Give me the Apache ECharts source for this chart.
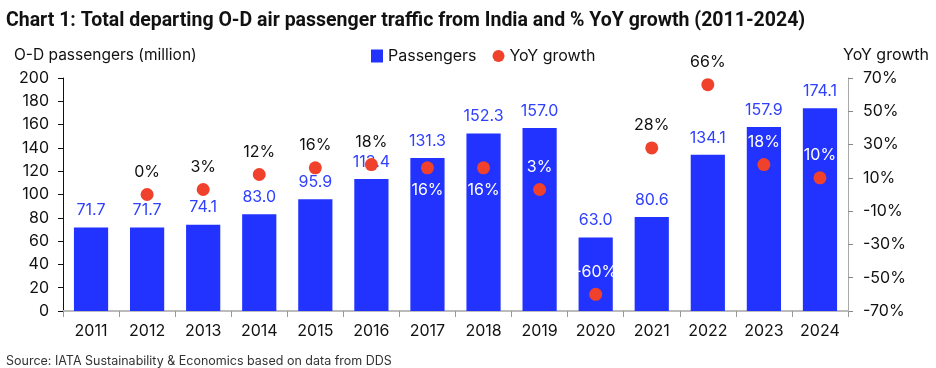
<!DOCTYPE html>
<html>
<head>
<meta charset="utf-8">
<script src="https://cdn.jsdelivr.net/npm/echarts@6/dist/echarts.min.js"></script>
<style>html,body{margin:0;padding:0;background:#fff}#c{width:936px;height:368px}</style>
</head>
<body>
<div id="c"></div>
<script>
var years = ['2011','2012','2013','2014','2015','2016','2017','2018','2019','2020','2021','2022','2023','2024'];
var passengers = [71.7, 71.7, 74.1, 83.0, 95.9, 113.4, 131.3, 152.3, 157.0, 63.0, 80.6, 134.1, 157.9, 174.1];
var yoyGrowth = [null, 0, 3, 12, 16, 18, 16, 16, 3, -60, 28, 66, 18, 10];
var leftTicks = [0, 20, 40, 60, 80, 100, 120, 140, 160, 180, 200];
var rightTicks = [-70, -50, -30, -10, 10, 30, 50, 70];

var FONT = 'Inter, "Liberation Sans", Arial, sans-serif';
var BLUE = '#2233ff';
var RED = '#f0412c';
// label style choices (not data)
var belowYears = ['2017', '2018'];
var whiteYears = ['2017', '2018', '2019', '2020', '2023', '2024'];

var yoyData = yoyGrowth.map(function (v, i) {
  var y = years[i];
  return {
    value: v,
    label: {
      position: belowYears.indexOf(y) >= 0 ? 'bottom' : 'top',
      color: whiteYears.indexOf(y) >= 0 ? '#ffffff' : '#111111'
    }
  };
});

var chart = echarts.init(document.getElementById('c'), null, {renderer: 'canvas'});
chart.setOption({
  animation: false,
  textStyle: {fontFamily: FONT},
  title: [
    {text: 'Chart 1: Total departing O-D air passenger traffic from India and % YoY growth (2011-2024)',
     left: 1, top: 6, textStyle: {fontFamily: 'Roboto, ' + FONT, fontWeight: 'bold', fontSize: 19.5, color: '#111'}},
    {text: 'O-D passengers (million)', left: 9, top: 42,
     textStyle: {fontFamily: FONT, fontWeight: 'normal', fontSize: 15.5, color: '#111'}},
    {text: 'YoY growth', right: 2, top: 42,
     textStyle: {fontFamily: FONT, fontWeight: 'normal', fontSize: 16, color: '#111'}},
    {text: 'Source: IATA Sustainability & Economics based on data from DDS', left: 1, top: 350,
     textStyle: {fontFamily: FONT, fontWeight: 'normal', fontSize: 12.5, color: '#333'}}
  ],
  legend: {
    left: 366, top: 43, itemGap: 16, itemWidth: 12, itemHeight: 13,
    textStyle: {fontFamily: FONT, fontSize: 16, color: '#111'},
    data: [{name: 'Passengers', icon: 'rect'}, {name: 'YoY growth', icon: 'circle'}]
  },
  grid: {left: 63, right: 88, top: 78, bottom: 57, containLabel: false},
  xAxis: {
    type: 'category', data: years,
    axisLine: {lineStyle: {color: '#bbbbbb', width: 2}},
    axisTick: {show: true, alignWithLabel: false, length: 6, lineStyle: {color: '#999'}},
    axisLabel: {fontFamily: FONT, fontSize: 16, color: '#111', margin: 12}
  },
  yAxis: [
    {
      type: 'value', min: 0, max: 200, interval: 20, position: 'left',
      axisLine: {show: true, lineStyle: {color: '#111', width: 1}},
      axisTick: {show: true, length: 5, lineStyle: {color: '#111'}},
      axisLabel: {fontFamily: FONT, fontSize: 16, color: '#111', margin: 14,
        customValues: leftTicks},
      splitLine: {show: false}
    },
    {
      type: 'value', min: -70, max: 70, position: 'right',
      axisLine: {show: true, lineStyle: {color: '#aaaaaa', width: 1}},
      axisTick: {show: true, length: 5, lineStyle: {color: '#888'}, customValues: rightTicks},
      axisLabel: {fontFamily: FONT, fontSize: 16, color: '#111', margin: 15,
        customValues: rightTicks, formatter: function (v) { return v + '%'; }},
      splitLine: {show: false}
    }
  ],
  series: [
    {
      name: 'Passengers', type: 'bar', data: passengers, yAxisIndex: 0,
      barWidth: '61%',
      itemStyle: {color: BLUE},
      label: {show: true, position: 'top', distance: 9, fontFamily: FONT, fontSize: 16, color: '#3040ff',
        formatter: function (p) { return p.value.toFixed(1); }},
      z: 2
    },
    {
      name: 'YoY growth', type: 'scatter', data: yoyData, yAxisIndex: 1,
      symbol: 'circle', symbolSize: 13,
      itemStyle: {color: RED, opacity: 1},
      label: {show: true, distance: 8, fontFamily: FONT, fontSize: 16,
        formatter: function (p) { return p.value == null ? '' : p.value + '%'; }},
      z: 3
    }
  ]
});
</script>
</body>
</html>
